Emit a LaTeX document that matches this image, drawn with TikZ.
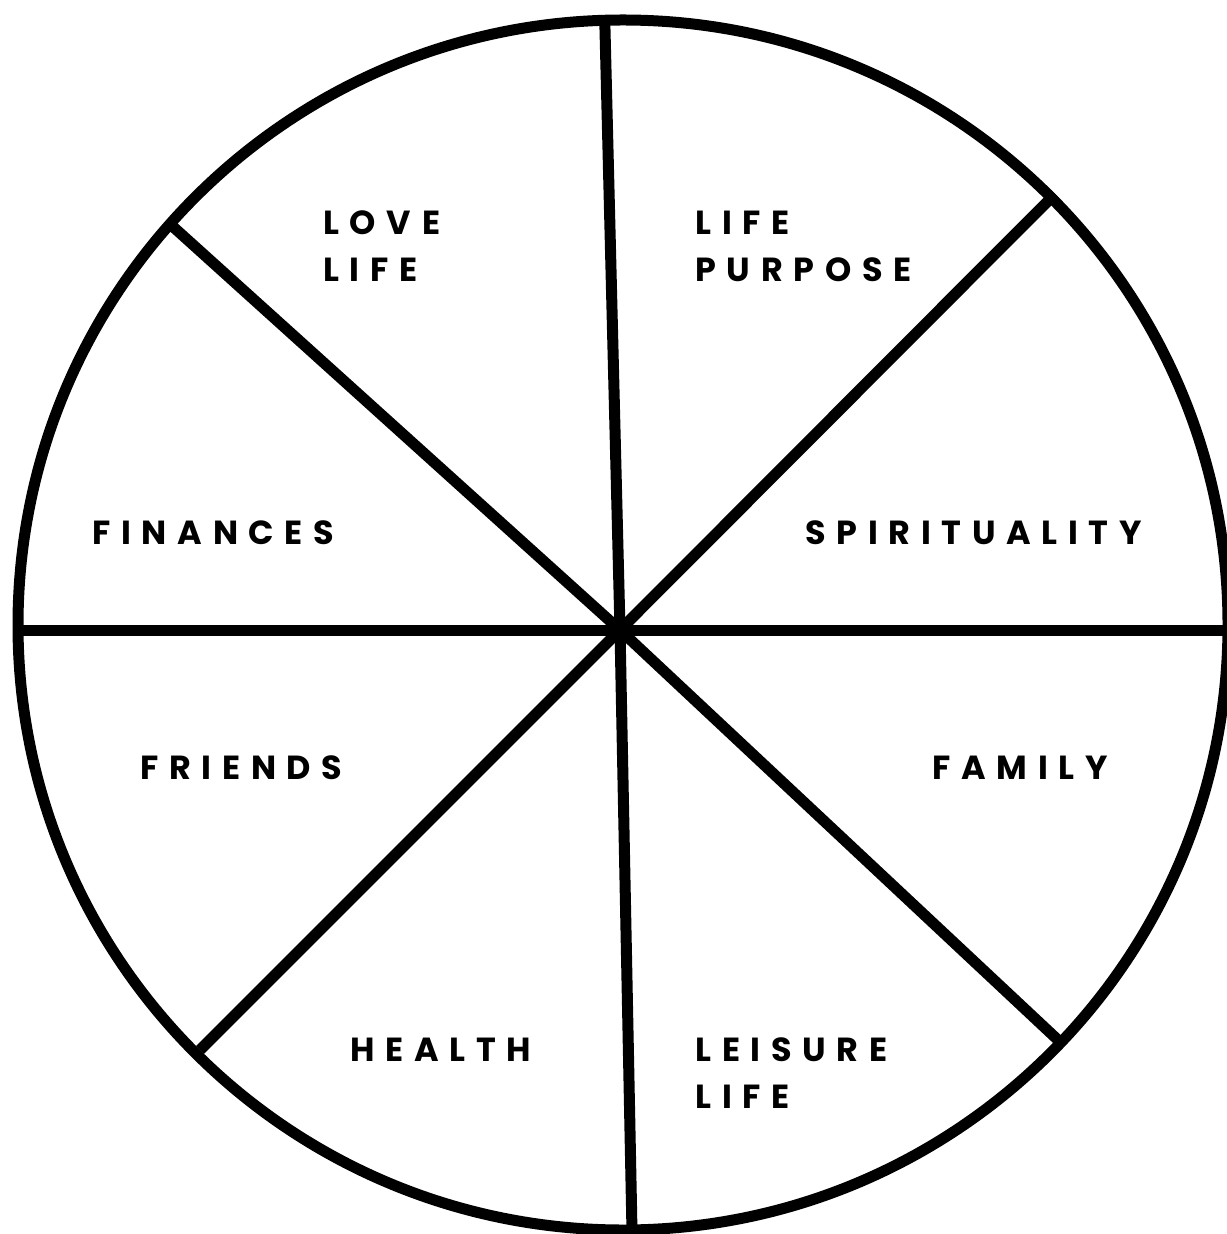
\documentclass[tikz,border=0pt]{standalone}
\usepackage{fontspec}
\usepackage{tikz}
\newfontfamily\wheelfont[LetterSpace=32]{Poppins Bold}
\definecolor{wheelblack}{HTML}{000000}

\begin{document}
\begin{tikzpicture}[
    x=0.5pt, y=-0.5pt,
    rim/.style={draw=wheelblack, line width=5.5pt},
    spoke/.style={draw=wheelblack, line width=5.5pt},
    area/.style={
        anchor=base west,
        inner sep=0pt,
        align=left,
        text=wheelblack,
        font={\wheelfont\fontsize{16.7}{23.5}\selectfont}
    }
]
    \useasboundingbox (0,0) rectangle (1226,1234);

    % wheel and hub
    \coordinate (hub) at (620,630);
    \draw[rim] (623,625) circle (605);

    % spoke ends on the rim
    \coordinate (top) at (604.7,18);
    \coordinate (bottom) at (632,1232);
    \coordinate (left) at (18,630);
    \coordinate (right) at (1230,630);
    \coordinate (upleft) at (170,224);
    \coordinate (lowright) at (1058,1040);
    \coordinate (lowleft) at (200,1050);
    \coordinate (upright) at (1055,194);

    \draw[spoke] (top) -- (hub) -- (bottom);
    \draw[spoke] (left) -- (hub) -- (right);
    \draw[spoke] (upleft) -- (hub) -- (lowright);
    \draw[spoke] (lowleft) -- (hub) -- (upright);

    % life areas (two-line labels sit on their last baseline)
    \node[area] (love) at (323,282) {LOVE\\LIFE};
    \node[area] (purpose) at (695,282) {LIFE\\PURPOSE};
    \node[area] (finances) at (92,544) {FINANCES};
    \node[area] (spirit) at (805,544) {SPIRITUALITY};
    \node[area] (friends) at (140,779) {FRIENDS};
    \node[area] (family) at (932,779) {FAMILY};
    \node[area] (health) at (350,1061) {HEALTH};
    \node[area] (leisure) at (695,1108) {LEISURE\\LIFE};
\end{tikzpicture}
\end{document}
